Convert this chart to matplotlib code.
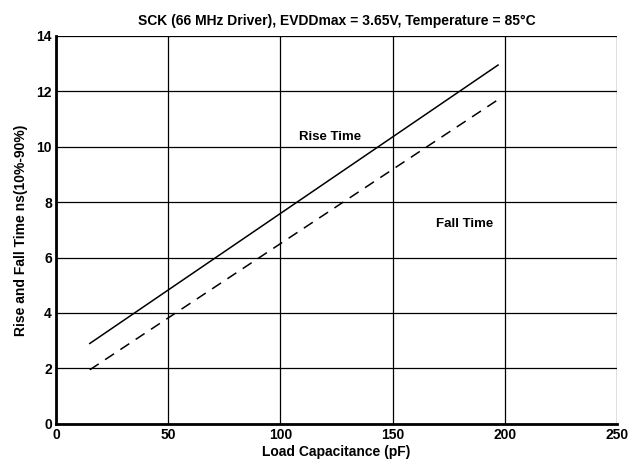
import matplotlib.pyplot as plt

plt.rcParams['font.family'] = ['Liberation Sans', 'DejaVu Sans']
plt.rcParams['font.weight'] = 'bold'

load_pf = [15, 197]
rise_ns = [2.9, 12.95]
fall_ns = [1.95, 11.7]

x_ticks = [0, 50, 100, 150, 200, 250]
y_ticks = [0, 2, 4, 6, 8, 10, 12, 14]

fig = plt.figure(figsize=(6.38, 4.73), dpi=100)
ax = fig.add_axes([0.088, 0.104, 0.879, 0.82])

ax.plot(load_pf, rise_ns, color='black', lw=1.1)
ax.plot(load_pf, fall_ns, color='black', lw=1.1, dashes=(7, 5))

ax.set_xlim(0, 250)
ax.set_ylim(0, 14)
ax.set_xticks(x_ticks)
ax.set_yticks(y_ticks)
ax.grid(True, color='black', lw=0.9)
ax.tick_params(length=0, labelsize=10, pad=3)
for lbl in ax.get_xticklabels() + ax.get_yticklabels():
    lbl.set_fontweight('bold')

for s in ['top', 'right']:
    ax.spines[s].set_visible(False)
for s in ['left', 'bottom']:
    ax.spines[s].set_linewidth(2)

ax.text(122, 10.35, 'Rise Time', fontsize=9.5, fontweight='bold', ha='center', va='center')
ax.text(182, 7.2, 'Fall Time', fontsize=9.5, fontweight='bold', ha='center', va='center')

ax.set_title('SCK (66 MHz Driver), EVDDmax = 3.65V, Temperature = 85\u00b0C',
             fontsize=10, fontweight='bold', pad=8)
ax.set_xlabel('Load Capacitance (pF)', fontsize=10, fontweight='bold', labelpad=2)
ax.set_ylabel('Rise and Fall Time ns(10%-90%)', fontsize=10, fontweight='bold', labelpad=6)

fig.savefig('out.png', dpi=100)
